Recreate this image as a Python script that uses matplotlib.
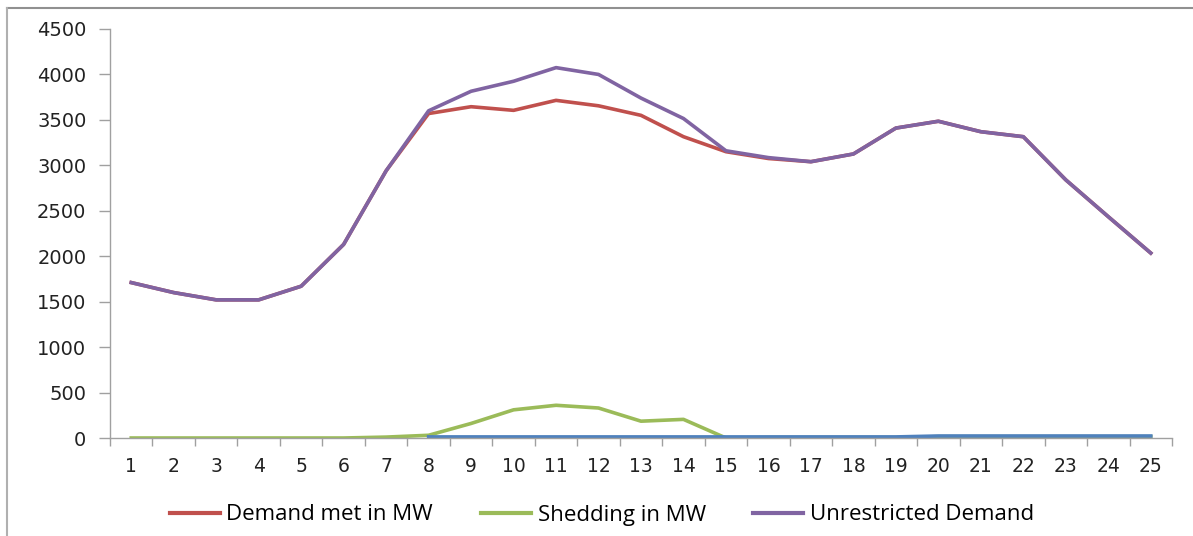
import numpy as np
import matplotlib.pyplot as plt
from matplotlib.lines import Line2D

plt.rcParams['font.family'] = 'DejaVu Sans'

hours = np.arange(1, 26)
demand_met = [1710, 1600, 1520, 1520, 1670, 2130, 2940, 3570, 3645, 3605, 3715,
              3655, 3550, 3315, 3150, 3075, 3040, 3125, 3410, 3485, 3370, 3315,
              2840, 2435, 2035]
shedding = [0, 0, 0, 0, 0, 0, 10, 30, 160, 310, 360, 330, 185, 205, 0, 5, 5, 5,
            5, 15, 15, 15, 15, 15, 15]
unrestricted = [1710, 1600, 1520, 1520, 1670, 2130, 2940, 3600, 3815, 3925, 4075,
                4000, 3740, 3515, 3160, 3085, 3040, 3125, 3410, 3485, 3370, 3315,
                2840, 2435, 2035]
# unnamed series hugging the axis (not in legend)
other = [np.nan] * 7 + [12] * 12 + [22] * 6

labels = ['Demand met in MW', 'Shedding in MW', 'Unrestricted Demand']
colors = ['#C0504D', '#9BBB59', '#8064A2']
blue = '#4F81BD'

W, H = 1193, 536
fig = plt.figure(figsize=(W / 100, H / 100), dpi=100)
ax = fig.add_axes([110 / W, 1 - 438 / H, (1172 - 110) / W, (438 - 29) / H])

lw = 2.6
ax.plot(hours, demand_met, color=colors[0], lw=lw, solid_joinstyle='round')
ax.plot(hours, shedding, color=colors[1], lw=lw, solid_joinstyle='round')
ax.plot(hours, other, color=blue, lw=lw, solid_joinstyle='round')
ax.plot(hours, unrestricted, color=colors[2], lw=lw, solid_joinstyle='round')

ax.set_xlim(0.5, 25.5)
ax.set_ylim(0, 4500)
ax.set_yticks(np.arange(0, 4501, 500))
ax.set_xticks(hours)
ax.set_xticks(np.arange(0.5, 26, 1), minor=True)
ax.tick_params(axis='x', which='major', length=0, pad=14, labelsize=13.5, colors='#222222')
ax.tick_params(axis='x', which='minor', length=6, width=1, color='#A0A0A0')
ax.tick_params(axis='y', length=8, width=1, color='#A0A0A0', pad=9, labelsize=14,
               labelcolor='#222222')
for s in ['top', 'right']:
    ax.spines[s].set_visible(False)
for s in ['left', 'bottom']:
    ax.spines[s].set_color('#A0A0A0')
    ax.spines[s].set_linewidth(1)

handles = [Line2D([], [], color=c, lw=3) for c in colors]
fig.legend(handles, labels, loc='center', bbox_to_anchor=(602 / W, 1 - 515 / H),
           ncol=3, frameon=False, handlelength=2.25, handletextpad=0.3,
           columnspacing=2.15, prop={'family': 'Open Sans', 'size': 16})

# outer chart border
fig.add_artist(Line2D([7 / W, 1], [1 - 8 / H, 1 - 8 / H], color='#909090', lw=1.5,
                      transform=fig.transFigure))
fig.add_artist(Line2D([7 / W, 7 / W], [0, 1 - 8 / H], color='#B0B0B0', lw=1.5,
                      transform=fig.transFigure))

fig.savefig('out.png', dpi=100)
